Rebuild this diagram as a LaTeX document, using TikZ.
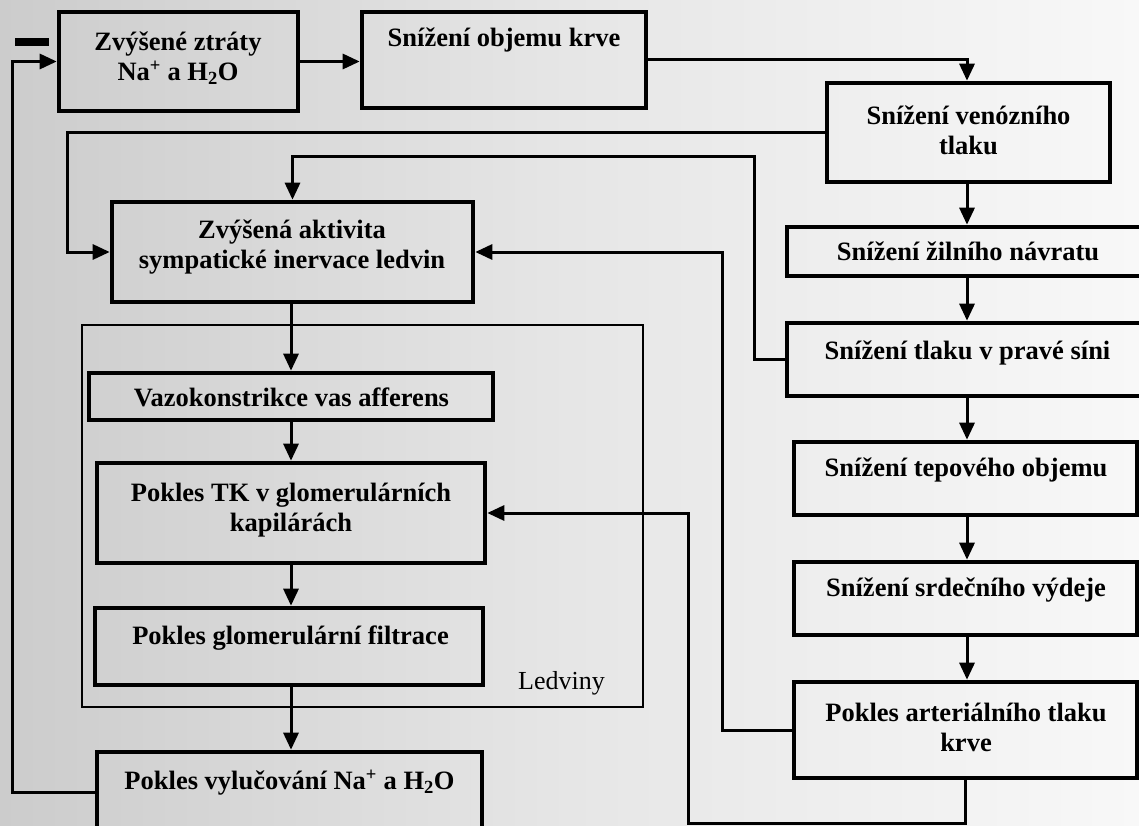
\documentclass[tikz,border=0pt]{standalone}
\usepackage{fontspec}
\setmainfont{Liberation Serif}
\usetikzlibrary{arrows.meta,calc}
\definecolor{pageL}{RGB}{204,204,204}
\definecolor{pageM}{RGB}{230,230,230}
\definecolor{pageR}{RGB}{248,248,248}
\begin{document}
\begin{tikzpicture}[x=1pt,y=-1pt,
  box/.style={draw, line width=4.6pt, inner sep=0pt, rectangle},
  txt/.style={font=\bfseries\fontsize{26.5}{30}\selectfont, align=center, inner sep=0pt},
  plain/.style={font=\fontsize{26}{30}\selectfont, inner sep=0pt},
  link/.style={line width=3pt},
  arr/.style={link, -{Triangle[length=17pt,width=15pt]}},
]
\useasboundingbox (0,0) rectangle (1139,826);
\clip (0,0) rectangle (1139,826);
\shade[left color=pageL, right color=pageR, middle color=pageM] (0,0) rectangle (1139,826);

% guide coordinates for the routed connectors
\coordinate (rc) at (967,0);   % right column axis
\coordinate (lc) at (291,0);   % left column axis
\coordinate (c1) at (67,0);
\coordinate (c2) at (754,157);
\coordinate (c3) at (722,0);
\coordinate (c4) at (688,823);
\coordinate (c5) at (12,0);

% kidney frame
\node[draw, line width=2.8pt, inner sep=0pt, minimum width=561pt, minimum height=382pt] (ledv) at (362.5,516) {};
\node[plain] (ledvt) at (561.5,683) {Ledviny};

% negative feedback sign
\fill (15,38) rectangle (49,46);

% boxes
\node[box, minimum width=239pt, minimum height=99pt] (b1) at (178.5,61.5) {};
\node[txt] (t1) at (178,58) {Zvýšené ztráty\\Na\textsuperscript{+} a H\textsubscript{2}O};

\node[box, minimum width=284pt, minimum height=96pt] (b2) at (504,60) {};
\node[txt] (t2) at (504,40) {Snížení objemu krve};

\node[box, minimum width=283pt, minimum height=99pt] (b3) at (968.5,132.5) {};
\node[txt] (t3) at (968.5,130) {Snížení venózního\\tlaku};

\node[box, minimum width=361pt, minimum height=100pt] (b4) at (292.5,252) {};
\node[txt] (t4) at (292,247) {Zvýšená aktivita\\sympatické inervace ledvin};

\node[box, minimum width=362pt, minimum height=49pt] (b5) at (968,251.5) {};
\node[txt] (t5) at (968,251) {Snížení žilního návratu};

\node[box, minimum width=404pt, minimum height=47pt] (b6) at (291,396.5) {};
\node[txt] (t6) at (291.5,397) {Vazokonstrikce vas afferens};

\node[box, minimum width=362pt, minimum height=73pt] (b7) at (968,359.5) {};
\node[txt] (t7) at (967.5,353) {Snížení tlaku v pravé síni};

\node[box, minimum width=343pt, minimum height=73pt] (b8) at (965.5,478.5) {};
\node[txt] (t8) at (966,470) {Snížení tepového objemu};

\node[box, minimum width=388pt, minimum height=100pt] (b9) at (291,513) {};
\node[txt] (t9) at (291,510) {Pokles TK v glomerulárních\\kapilárách};

\node[box, minimum width=343pt, minimum height=73pt] (b10) at (965.5,598.5) {};
\node[txt] (t10) at (966,590) {Snížení srdečního výdeje};

\node[box, minimum width=388pt, minimum height=77pt] (b11) at (289,646.5) {};
\node[txt] (t11) at (290.5,638) {Pokles glomerulární filtrace};

\node[box, minimum width=343pt, minimum height=96pt] (b12) at (965.5,730) {};
\node[txt] (t12) at (966,727) {Pokles arteriálního tlaku\\krve};

\node[box, minimum width=385pt, minimum height=80pt] (b13) at (289.5,792) {};
\node[txt] (t13) at (289.5,783) {Pokles vylučování Na\textsuperscript{+} a H\textsubscript{2}O};

% main chain
\draw[arr] (b1.east) -- (b1.east -| b2.west);
\draw[arr] (b2.east) -| (b3.north -| rc);
\draw[arr] (b3.south -| rc) -- (b5.north -| rc);
\draw[arr] (b5.south -| rc) -- (b7.north -| rc);
\draw[arr] (b7.south -| rc) -- (b8.north -| rc);
\draw[arr] (b8.south -| rc) -- (b10.north -| rc);
\draw[arr] (b10.south -| rc) -- (b12.north -| rc);

% kidney chain
\draw[arr] (b4.south -| lc) -- (b6.north -| lc);
\draw[arr] (b6.south -| lc) -- (b9.north -| lc);
\draw[arr] (b9.south -| lc) -- (b11.north -| lc);
\draw[arr] (b11.south -| lc) -- (b13.north -| lc);

% signals to the kidney
\draw[arr] (b3.west) -- (b3.west -| c1) |- (b4.west);
\draw[arr] (b7.west) -| (c2) -| (b4.north);
\draw[arr] (b12.west) -- (b12.west -| c3) |- (b4.east);
\draw[arr] (b12.south) |- (c4) |- (b9.east);

% feedback loop
\draw[arr] (b13.west) -- (b13.west -| c5) |- (b1.west);
\end{tikzpicture}
\end{document}
